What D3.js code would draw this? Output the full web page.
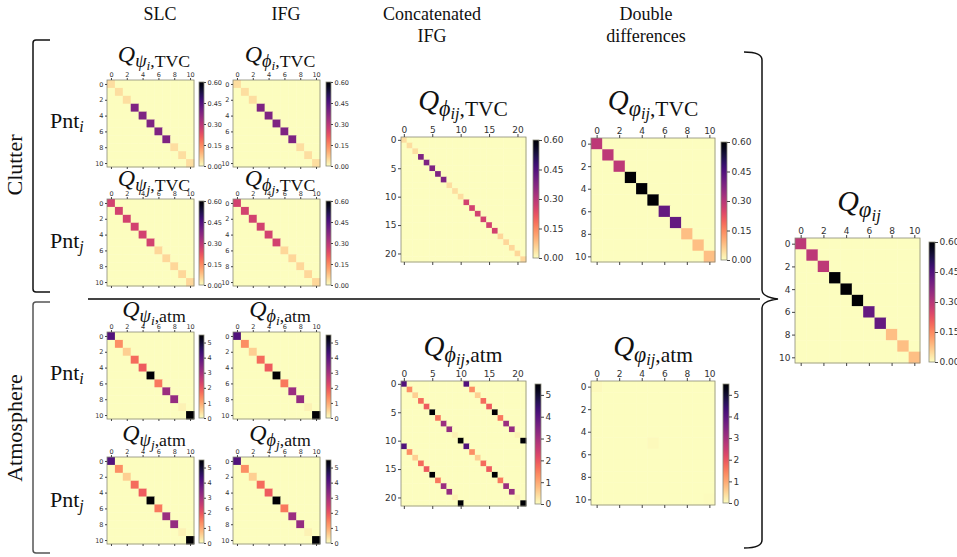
<!DOCTYPE html>
<html>
<head>
<meta charset="utf-8">
<script src="https://cdn.jsdelivr.net/npm/d3@7"></script>
<style>
  body { margin: 0; background: #fff; }
  .tick text { fill: #333; font-family: "DejaVu Sans", sans-serif; }
  .tick line { stroke: #444; }
</style>
</head>
<body>
<svg id="fig" width="957" height="557"></svg>
<script>
// diagonal values
const clutterPntI = [0.04, 0.04, 0.04, 0.38, 0.38, 0.38, 0.38, 0.38, 0.04, 0.04, 0.04];
const clutterPntJ = [0.26, 0.26, 0.26, 0.26, 0.26, 0.26, 0.05, 0.05, 0.05, 0.05, 0.05];
const clutterDD   = [0.29, 0.29, 0.29, 0.64, 0.64, 0.64, 0.42, 0.42, 0.08, 0.08, 0.08];
const atmDiag     = [4.1, 1.3, 0.55, 1.7, 1.9, 5.5, 1.55, 3.1, 3.2, 0.15, 5.5];
const atmDD       = [0.06, 0, 0, 0, 0, 0.05, 0, 0, 0, 0, 0.04];

const tvcTicks = [0, 0.15, 0.30, 0.45, 0.60];
const atmTicks = [0, 1, 2, 3, 4, 5];
const tvcMax = 0.6;
const atmMax = 5.5;
const ticks11 = [0, 2, 4, 6, 8, 10];
const ticks22 = [0, 5, 10, 15, 20];

const serif = '"Liberation Serif", "DejaVu Serif", serif';
const svg = d3.select("#fig");

const diagMatrix = (d) => d.map((v, i) => d.map((_, j) => (i === j ? v : 0)));
const concatMatrix = (a, b, coupled) => {
  const n = a.length;
  const all = a.concat(b);
  return all.map((v, i) => all.map((_, j) => {
    if (i === j) return v;
    if (coupled && Math.abs(i - j) === n) return a[i % n];
    return 0;
  }));
};

let gradId = 0;
const heatmap = (o) => {
  const m = o.m;
  const n = m.length;
  const g = svg.append("g").attr("transform", `translate(${o.x},${o.y})`);
  const s = d3.scaleLinear().domain([-0.5, n - 0.5]).range([0, o.size]);
  const color = d3.scaleSequential(t => d3.interpolateMagma(1 - t)).domain([0, o.max]).clamp(true);
  const cells = [];
  m.forEach((row, i) => row.forEach((v, j) => cells.push({ i, j, v })));
  const cw = s(1) - s(0);
  g.append("g")
    .selectAll("rect")
    .data(cells)
    .join("rect")
      .attr("x", d => s(d.j - 0.5))
      .attr("y", d => s(d.i - 0.5))
      .attr("width", cw + 0.4)
      .attr("height", cw + 0.4)
      .attr("fill", d => color(d.v));
  g.append("rect")
    .attr("width", o.size).attr("height", o.size)
    .attr("fill", "none").attr("stroke", "#8a8a7a").attr("stroke-width", 0.8);

  const tk = o.ticks;
  g.append("g")
    .call(d3.axisTop(s).tickValues(tk).tickSize(o.tl).tickPadding(1.5))
    .call(a => a.select(".domain").remove())
    .selectAll("text").attr("font-size", o.fs);
  g.append("g")
    .call(d3.axisLeft(s).tickValues(tk).tickSize(o.tl).tickPadding(1.5))
    .call(a => a.select(".domain").remove())
    .selectAll("text").attr("font-size", o.fs);
  g.append("g")
    .attr("transform", `translate(0,${o.size})`)
    .call(d3.axisBottom(s).tickValues(tk).tickSize(o.tl).tickFormat(""))
    .call(a => a.select(".domain").remove());

  // colorbar
  const id = "cb" + (gradId++);
  const grad = svg.append("defs").append("linearGradient")
    .attr("id", id).attr("x1", 0).attr("y1", 1).attr("x2", 0).attr("y2", 0);
  d3.range(0, 1.0001, 0.05).forEach(k => {
    grad.append("stop").attr("offset", k).attr("stop-color", d3.interpolateMagma(1 - k));
  });
  const cb = svg.append("g").attr("transform", `translate(${o.cbX},${o.cbY})`);
  const cy = d3.scaleLinear().domain([0, o.max]).range([o.cbH, 0]);
  cb.append("rect").attr("width", o.cbW).attr("height", o.cbH)
    .attr("fill", `url(#${id})`).attr("stroke", "#8a8a7a").attr("stroke-width", 0.8);
  cb.append("g")
    .attr("transform", `translate(${o.cbW},0)`)
    .call(d3.axisRight(cy).tickValues(o.cbTicks).tickSize(o.tl).tickPadding(1.5).tickFormat(o.cbFmt))
    .call(a => a.select(".domain").remove())
    .selectAll("text").attr("font-size", o.fs);
};

const title = (cx, y, size, sym, idx, tail) => {
  const t = svg.append("text")
    .attr("x", cx).attr("y", y)
    .attr("text-anchor", "middle")
    .attr("font-family", serif)
    .attr("fill", "#111");
  t.append("tspan").attr("font-style", "italic").attr("font-size", size).text("Q");
  t.append("tspan").attr("font-style", "italic").attr("font-size", size * 0.76).attr("dy", size * 0.2).text(sym);
  t.append("tspan").attr("font-style", "italic").attr("font-size", size * 0.56).attr("dy", size * 0.12).text(idx);
  if (tail) {
    t.append("tspan").attr("font-size", size * 0.74).attr("dy", -size * 0.12).text(tail);
  }
};

const f2 = d3.format(".2f");
const fInt = d3.format("d");
const small = { size: 87, fs: 6.5, tl: 2, ticks: ticks11, cbW: 5 };
const mid = { fs: 9, tl: 3, cbW: 6 };

// clutter, SLC + IFG
heatmap({ ...small, m: diagMatrix(clutterPntI), x: 107, y: 80, max: tvcMax, cbX: 199, cbY: 82, cbH: 84, cbTicks: tvcTicks, cbFmt: f2 });
heatmap({ ...small, m: diagMatrix(clutterPntI), x: 233, y: 80, max: tvcMax, cbX: 326, cbY: 82, cbH: 84, cbTicks: tvcTicks, cbFmt: f2 });
heatmap({ ...small, m: diagMatrix(clutterPntJ), x: 107, y: 199, max: tvcMax, cbX: 199, cbY: 201, cbH: 84, cbTicks: tvcTicks, cbFmt: f2 });
heatmap({ ...small, m: diagMatrix(clutterPntJ), x: 233, y: 199, max: tvcMax, cbX: 326, cbY: 201, cbH: 84, cbTicks: tvcTicks, cbFmt: f2 });
// atmosphere, SLC + IFG
heatmap({ ...small, m: diagMatrix(atmDiag), x: 107, y: 332, max: atmMax, cbX: 199, cbY: 335, cbH: 83, cbTicks: atmTicks, cbFmt: fInt });
heatmap({ ...small, m: diagMatrix(atmDiag), x: 233, y: 332, max: atmMax, cbX: 326, cbY: 335, cbH: 83, cbTicks: atmTicks, cbFmt: fInt });
heatmap({ ...small, m: diagMatrix(atmDiag), x: 107, y: 457, max: atmMax, cbX: 199, cbY: 460, cbH: 83, cbTicks: atmTicks, cbFmt: fInt });
heatmap({ ...small, m: diagMatrix(atmDiag), x: 233, y: 457, max: atmMax, cbX: 326, cbY: 460, cbH: 83, cbTicks: atmTicks, cbFmt: fInt });

// concatenated IFG
heatmap({ ...mid, m: concatMatrix(clutterPntI, clutterPntJ, false), ticks: ticks22, size: 125, x: 401, y: 137, max: tvcMax, cbX: 533, cbY: 140, cbH: 118, cbTicks: tvcTicks, cbFmt: f2 });
heatmap({ ...mid, m: concatMatrix(atmDiag, atmDiag, true), ticks: ticks22, size: 125, x: 401, y: 381, max: atmMax, cbX: 535, cbY: 384, cbH: 120, cbTicks: atmTicks, cbFmt: fInt });
// double differences
heatmap({ ...mid, m: diagMatrix(clutterDD), ticks: ticks11, size: 124, x: 591, y: 138, max: tvcMax, cbX: 721, cbY: 142, cbH: 118, cbTicks: tvcTicks, cbFmt: f2 });
heatmap({ ...mid, m: diagMatrix(atmDD), ticks: ticks11, size: 124, x: 591, y: 381, max: atmMax, cbX: 723, cbY: 384, cbH: 119, cbTicks: atmTicks, cbFmt: fInt });
// final
heatmap({ ...mid, m: diagMatrix(clutterDD), ticks: ticks11, size: 125, x: 795, y: 238, max: tvcMax, cbX: 929, cbY: 242, cbH: 120, cbTicks: tvcTicks, cbFmt: f2 });

// titles
title(154, 62, 24, "\u03C8", "i", ",TVC");
title(280, 62, 24, "\u03D5", "i", ",TVC");
title(154, 186, 24, "\u03C8", "j", ",TVC");
title(280, 186, 24, "\u03D5", "j", ",TVC");
title(154, 317, 24, "\u03C8", "i", ",atm");
title(280, 317, 24, "\u03D5", "i", ",atm");
title(154, 441, 24, "\u03C8", "j", ",atm");
title(280, 441, 24, "\u03D5", "j", ",atm");
title(463, 110, 29, "\u03D5", "ij", ",TVC");
title(653, 110, 29, "\u03C6", "ij", ",TVC");
title(463, 356, 29, "\u03D5", "ij", ",atm");
title(653, 356, 29, "\u03C6", "ij", ",atm");
title(859, 211, 30, "\u03C6", "ij", null);

// column headers
const headers = [
  { t: "SLC", x: 160, y: 20 },
  { t: "IFG", x: 286, y: 20 },
  { t: "Concatenated", x: 432, y: 20 },
  { t: "IFG", x: 432, y: 42 },
  { t: "Double", x: 646, y: 20 },
  { t: "differences", x: 646, y: 42 }
];
svg.append("g").selectAll("text").data(headers).join("text")
  .attr("x", d => d.x).attr("y", d => d.y)
  .attr("text-anchor", "middle")
  .attr("font-family", serif).attr("font-size", 18).attr("fill", "#111")
  .text(d => d.t);

// row labels
const pnts = [{ s: "i", y: 128 }, { s: "j", y: 248 }, { s: "i", y: 380 }, { s: "j", y: 507 }];
pnts.forEach(p => {
  const t = svg.append("text").attr("x", 50).attr("y", p.y)
    .attr("font-family", serif).attr("font-size", 22).attr("fill", "#111");
  t.append("tspan").text("Pnt");
  t.append("tspan").attr("font-style", "italic").attr("font-size", 16).attr("dy", 4).text(p.s);
});
[{ t: "Clutter", y: 165 }, { t: "Atmosphere", y: 428 }].forEach(d => {
  svg.append("text")
    .attr("transform", `translate(22,${d.y}) rotate(-90)`)
    .attr("text-anchor", "middle")
    .attr("font-family", serif).attr("font-size", 22).attr("fill", "#111")
    .text(d.t);
});

// brackets and separator
svg.append("path")
  .attr("d", "M50 40 L36 40 Q33 40 33 43 V289 Q33 292 36 292 L50 292")
  .attr("fill", "none").attr("stroke", "#111").attr("stroke-width", 1.5);
svg.append("path")
  .attr("d", "M50 302 L36 302 Q33 302 33 305 V550 Q33 553 36 553 L50 553")
  .attr("fill", "none").attr("stroke", "#555").attr("stroke-width", 1.5);
svg.append("path")
  .attr("d", "M88 299 H760")
  .attr("fill", "none").attr("stroke", "#444").attr("stroke-width", 2);
svg.append("path")
  .attr("d", "M744 52 Q762 52 762 60 V290 Q762 297 778 299 Q762 301 762 308 V540 Q762 548 744 548")
  .attr("fill", "none").attr("stroke", "#111").attr("stroke-width", 1.5);
</script>
</body>
</html>
